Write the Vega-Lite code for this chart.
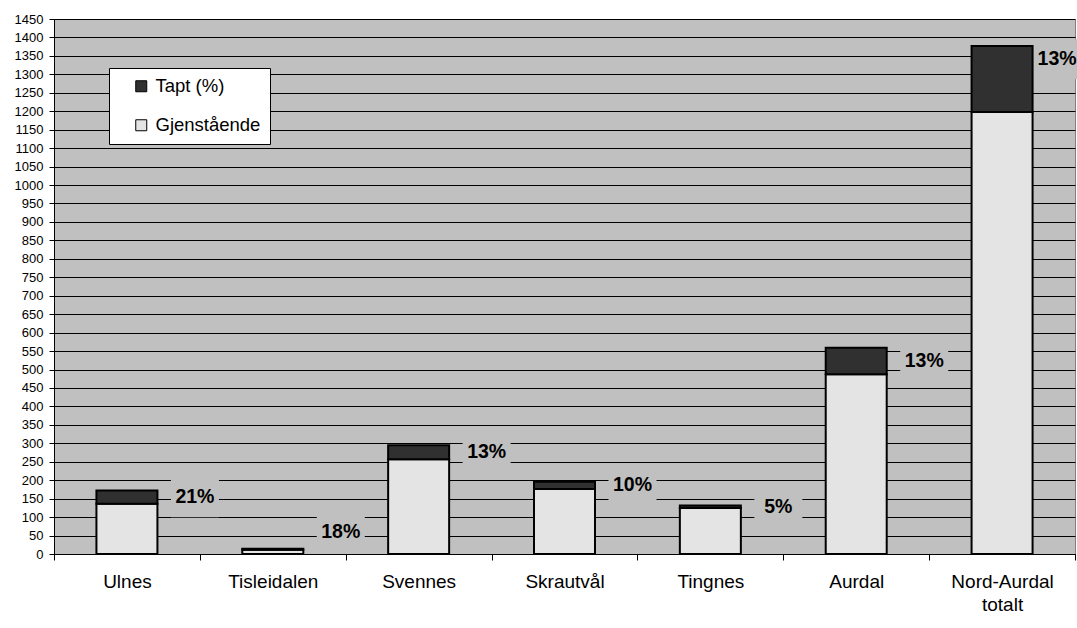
{
  "$schema": "https://vega.github.io/schema/vega-lite/v6.json",
  "width": 1021,
  "height": 535,
  "autosize": {"type": "none"},
  "padding": {"left": 54, "top": 19, "right": 2, "bottom": 74},
  "background": "white",
  "config": {
    "font": "Liberation Sans",
    "view": {"fill": "#c0c0c0", "stroke": "#808080"},
    "axisY": {
      "format": "d",
      "labelFontSize": 13,
      "labelColor": "black",
      "labelPadding": 6,
      "tickSize": 5,
      "tickColor": "black",
      "domainColor": "black",
      "grid": true,
      "gridColor": "black",
      "gridWidth": 1,
      "gridOpacity": 1,
      "title": null
    }
  },
  "data": {
    "values": [
      {"sted": "Ulnes", "Gjenstående": 136, "Tapt (%)": 36, "pct": "21%"},
      {"sted": "Tisleidalen", "Gjenstående": 11.5, "Tapt (%)": 2.5, "pct": "18%"},
      {"sted": "Svennes", "Gjenstående": 257, "Tapt (%)": 38, "pct": "13%"},
      {"sted": "Skrautvål", "Gjenstående": 176, "Tapt (%)": 20, "pct": "10%"},
      {"sted": "Tingnes", "Gjenstående": 125, "Tapt (%)": 6.5, "pct": "5%"},
      {"sted": "Aurdal", "Gjenstående": 487, "Tapt (%)": 72, "pct": "13%"},
      {"sted": "Nord-Aurdal totalt", "Gjenstående": 1198, "Tapt (%)": 179, "pct": "13%"}
    ]
  },
  "encoding": {
    "x": {
      "field": "sted",
      "type": "nominal",
      "sort": null,
      "title": null,
      "scale": {"paddingInner": 0, "paddingOuter": 0},
      "axis": {
        "labelAngle": 0,
        "labelFontSize": 19,
        "labelColor": "black",
        "labelPadding": 12,
        "labelLineHeight": 23,
        "labelExpr": "datum.label == 'Nord-Aurdal totalt' ? ['Nord-Aurdal', 'totalt'] : datum.label",
        "tickBand": "extent",
        "tickSize": 6,
        "tickColor": "black",
        "domainColor": "black",
        "domainWidth": 1,
        "grid": false
      }
    }
  },
  "layer": [
    {
      "transform": [
        {"filter": "datum.sted != 'Nord-Aurdal totalt'"},
        {"calculate": "max(datum['Gjenstående'] + datum['Tapt (%)'] / 2, 60)", "as": "ly"}
      ],
      "mark": {"type": "point", "shape": "M-1.2,-1H1.2V1H-1.2Z", "filled": true, "color": "#c0c0c0", "opacity": 1, "strokeWidth": 0, "size": 1600, "xOffset": 68},
      "encoding": {
        "y": {"field": "ly", "type": "quantitative", "title": null, "scale": {"domain": [0, 1450], "nice": false}, "axis": {"values": [0,50,100,150,200,250,300,350,400,450,500,550,600,650,700,750,800,850,900,950,1000,1050,1100,1150,1200,1250,1300,1350,1400,1450]}}
      }
    },
    {
      "transform": [
        {"filter": "datum.sted == 'Nord-Aurdal totalt'"},
        {"calculate": "datum['Gjenstående'] + datum['Tapt (%)'] * 0.8", "as": "ly"}
      ],
      "mark": {"type": "point", "shape": "M-1.2,-1H1.2V1H-1.2Z", "filled": true, "color": "#c0c0c0", "opacity": 1, "strokeWidth": 0, "size": 1600, "xOffset": 55},
      "encoding": {
        "y": {"field": "ly", "type": "quantitative", "title": null, "axis": {"values": [0,50,100,150,200,250,300,350,400,450,500,550,600,650,700,750,800,850,900,950,1000,1050,1100,1150,1200,1250,1300,1350,1400,1450]}}
      }
    },
    {
      "transform": [{"fold": ["Gjenstående", "Tapt (%)"], "as": ["serie", "verdi"]}],
      "mark": {"type": "bar", "stroke": "black", "strokeWidth": 2, "width": 61},
      "encoding": {
        "y": {
          "field": "verdi",
          "type": "quantitative",
          "stack": "zero",
          "title": null,
          "axis": {"values": [0,50,100,150,200,250,300,350,400,450,500,550,600,650,700,750,800,850,900,950,1000,1050,1100,1150,1200,1250,1300,1350,1400,1450]}
        },
        "color": {
          "field": "serie",
          "type": "nominal",
          "scale": {"domain": ["Tapt (%)", "Gjenstående"], "range": ["#303030", "#e4e4e4"]},
          "legend": {
            "title": null,
            "orient": "none",
            "legendX": 55,
            "legendY": 49,
            "fillColor": "white",
            "strokeColor": "black",
            "padding": 9,
            "symbolOffset": 14,
            "symbolType": "square",
            "symbolSize": 121,
            "symbolStrokeColor": "black",
            "symbolStrokeWidth": 1,
            "labelFontSize": 18.5,
            "labelColor": "black",
            "labelOffset": 5,
            "rowPadding": 20
          }
        },
        "order": {"field": "serie", "sort": "ascending"}
      }
    },
    {
      "transform": [
        {"filter": "datum.sted != 'Nord-Aurdal totalt'"},
        {"calculate": "max(datum['Gjenstående'] + datum['Tapt (%)'] / 2, 60)", "as": "ly"}
      ],
      "mark": {"type": "text", "fontWeight": "bold", "fontSize": 19.5, "dx": 68, "color": "black", "align": "center", "baseline": "middle"},
      "encoding": {
        "y": {"field": "ly", "type": "quantitative", "title": null, "axis": {"values": [0,50,100,150,200,250,300,350,400,450,500,550,600,650,700,750,800,850,900,950,1000,1050,1100,1150,1200,1250,1300,1350,1400,1450]}},
        "text": {"field": "pct"}
      }
    },
    {
      "transform": [
        {"filter": "datum.sted == 'Nord-Aurdal totalt'"},
        {"calculate": "datum['Gjenstående'] + datum['Tapt (%)'] * 0.8", "as": "ly"}
      ],
      "mark": {"type": "text", "fontWeight": "bold", "fontSize": 19.5, "dx": 55, "color": "black", "align": "center", "baseline": "middle"},
      "encoding": {
        "y": {"field": "ly", "type": "quantitative", "title": null, "axis": {"values": [0,50,100,150,200,250,300,350,400,450,500,550,600,650,700,750,800,850,900,950,1000,1050,1100,1150,1200,1250,1300,1350,1400,1450]}},
        "text": {"field": "pct"}
      }
    }
  ]
}
